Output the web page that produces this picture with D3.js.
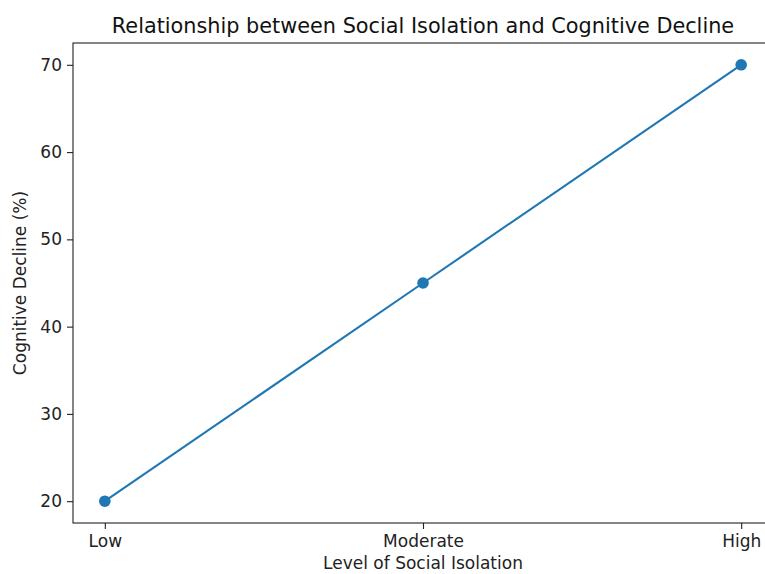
<!DOCTYPE html>
<html>
<head>
<meta charset="utf-8">
<script src="https://cdn.jsdelivr.net/npm/d3@7"></script>
<style>
  body { margin: 0; background: #fff; }
  svg { font-family: "DejaVu Sans", sans-serif; }
</style>
</head>
<body>
<div id="chart"></div>
<script>
const categories = ["Low", "Moderate", "High"];
const declineValues = [20, 45, 70];
const yTicks = [20, 30, 40, 50, 60, 70];

const width = 765, height = 574;
const margin = {top: 43, right: -8, bottom: 51, left: 73};
const innerW = width - margin.left - margin.right;
const innerH = height - margin.top - margin.bottom;
const color = "#1f77b4";

const svg = d3.select("#chart").append("svg")
  .attr("width", width)
  .attr("height", height);

const g = svg.append("g")
  .attr("transform", "translate(" + margin.left + "," + margin.top + ")");

// matplotlib style: categorical positions 0..n-1 with 5% margins
const x = d3.scaleLinear()
  .domain([-0.1, categories.length - 1 + 0.1])
  .range([0, innerW]);

const y = d3.scaleLinear()
  .domain([17.5, 72.5])
  .range([innerH, 0]);

const xAxis = g.append("g")
  .attr("transform", "translate(0," + innerH + ")")
  .call(d3.axisBottom(x)
    .tickValues(d3.range(categories.length))
    .tickFormat(i => categories[i])
    .tickSize(6)
    .tickPadding(6));

const yAxis = g.append("g")
  .call(d3.axisLeft(y)
    .tickValues(yTicks)
    .tickSize(6)
    .tickPadding(5));

[xAxis, yAxis].forEach(a => {
  a.select(".domain").remove();
  a.selectAll("text").attr("font-size", 17).attr("fill", "#222").attr("font-family", "DejaVu Sans");
  a.selectAll("line").attr("stroke", "#222").attr("stroke-width", 1.1);
});

// frame
g.append("rect")
  .attr("x", 0).attr("y", 0)
  .attr("width", innerW).attr("height", innerH)
  .attr("fill", "none")
  .attr("stroke", "#222")
  .attr("stroke-width", 1.1);

const line = d3.line()
  .x((d, i) => x(i))
  .y(d => y(d));

g.append("path")
  .datum(declineValues)
  .attr("d", line)
  .attr("fill", "none")
  .attr("stroke", color)
  .attr("stroke-width", 2.1);

g.selectAll("circle")
  .data(declineValues)
  .enter()
  .append("circle")
  .attr("cx", (d, i) => x(i))
  .attr("cy", d => y(d))
  .attr("r", 5.8)
  .attr("fill", color);

svg.append("text")
  .attr("x", 423)
  .attr("y", 33)
  .attr("text-anchor", "middle")
  .attr("font-size", 20.8)
  .attr("fill", "#111")
  .text("Relationship between Social Isolation and Cognitive Decline");

svg.append("text")
  .attr("x", 423)
  .attr("y", 569)
  .attr("text-anchor", "middle")
  .attr("font-size", 17)
  .attr("fill", "#222")
  .text("Level of Social Isolation");

svg.append("text")
  .attr("transform", "translate(26," + (margin.top + innerH / 2) + ") rotate(-90)")
  .attr("text-anchor", "middle")
  .attr("font-size", 17)
  .attr("fill", "#222")
  .text("Cognitive Decline (%)");
</script>
</body>
</html>
